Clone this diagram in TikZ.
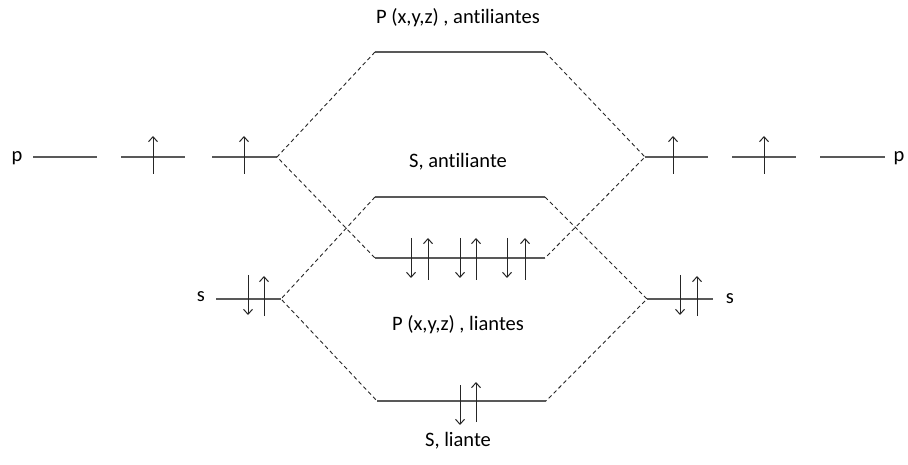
\documentclass[tikz,border=0pt]{standalone}
\usepackage{fontspec}
\setmainfont[Ligatures=NoCommon]{Carlito}
\usetikzlibrary{arrows.meta}
\begin{document}
\begin{tikzpicture}[x=1pt,y=-1pt,
  level/.style={draw=black!65, line width=1.1pt},
  link/.style={draw=black!85, line width=0.9pt, dash pattern=on 4pt off 3pt},
  spin/.style={draw=black!85, line width=1pt, -{Straight Barb[length=5pt,width=9pt]}},
  lbl/.style={font=\fontsize{20.5}{24}\selectfont, inner sep=0pt}]
\useasboundingbox (0,0) rectangle (908,465);
% levels
\coordinate (LpA1) at (33,157);  \coordinate (LpA2) at (97,157);
\coordinate (LpB1) at (121,157); \coordinate (LpB2) at (185,157);
\coordinate (LpC1) at (212,157); \coordinate (LpC2) at (277,157);
\coordinate (RpA1) at (645,157); \coordinate (RpA2) at (708,157);
\coordinate (RpB1) at (732,157); \coordinate (RpB2) at (796,157);
\coordinate (RpC1) at (820,157); \coordinate (RpC2) at (885,157);
\coordinate (Ls1) at (216,299);  \coordinate (Ls2) at (281,299);
\coordinate (Rs1) at (647,299);  \coordinate (Rs2) at (713,299);
\coordinate (Pa1) at (375,52);   \coordinate (Pa2) at (545,52);
\coordinate (Sa1) at (375,197);  \coordinate (Sa2) at (545,197);
\coordinate (Pb1) at (375,258);  \coordinate (Pb2) at (545,258);
\coordinate (Sb1) at (377,401);  \coordinate (Sb2) at (546,401);
\foreach \a/\b in {LpA1/LpA2,LpB1/LpB2,LpC1/LpC2,RpA1/RpA2,RpB1/RpB2,RpC1/RpC2,Ls1/Ls2,Rs1/Rs2,Pa1/Pa2,Sa1/Sa2,Pb1/Pb2,Sb1/Sb2}
  \draw[level] (\a) -- (\b);
% correlation lines
\draw[link] (Pa1) -- (LpC2) -- (Pb1);
\draw[link] (Pa2) -- (RpA1) -- (Pb2);
\draw[link] (Sa1) -- (Ls2) -- (Sb1);
\draw[link] (Sa2) -- (Rs1) -- (Sb2);
% spins p
\foreach \x in {153,244,673,764}
  \draw[spin] (\x,174) -- (\x,136);
% spins s atoms
\foreach \x in {248,680} \draw[spin] (\x,275) -- (\x,315);
\foreach \x in {264,697} \draw[spin] (\x,316) -- (\x,276);
% spins P bonding
\foreach \x in {411,460,507} \draw[spin] (\x,238) -- (\x,278);
\foreach \x in {428,476,525} \draw[spin] (\x,280) -- (\x,238);
% spins S bonding
\draw[spin] (460,385) -- (460,425);
\draw[spin] (476,422) -- (476,382);
% labels
\node[lbl] (tPa) at (458,18) {P (x,y,z) , antiliantes};
\node[lbl] (tSa) at (458,162) {S, antiliante};
\node[lbl] (tPb) at (458,325) {P (x,y,z) , liantes};
\node[lbl] (tSb) at (458,441) {S, liante};
\node[lbl] (tpL) at (17,158) {p};
\node[lbl] (tpR) at (899,158) {p};
\node[lbl] (tsL) at (201,297) {s};
\node[lbl] (tsR) at (730,299) {s};
\end{tikzpicture}
\end{document}
